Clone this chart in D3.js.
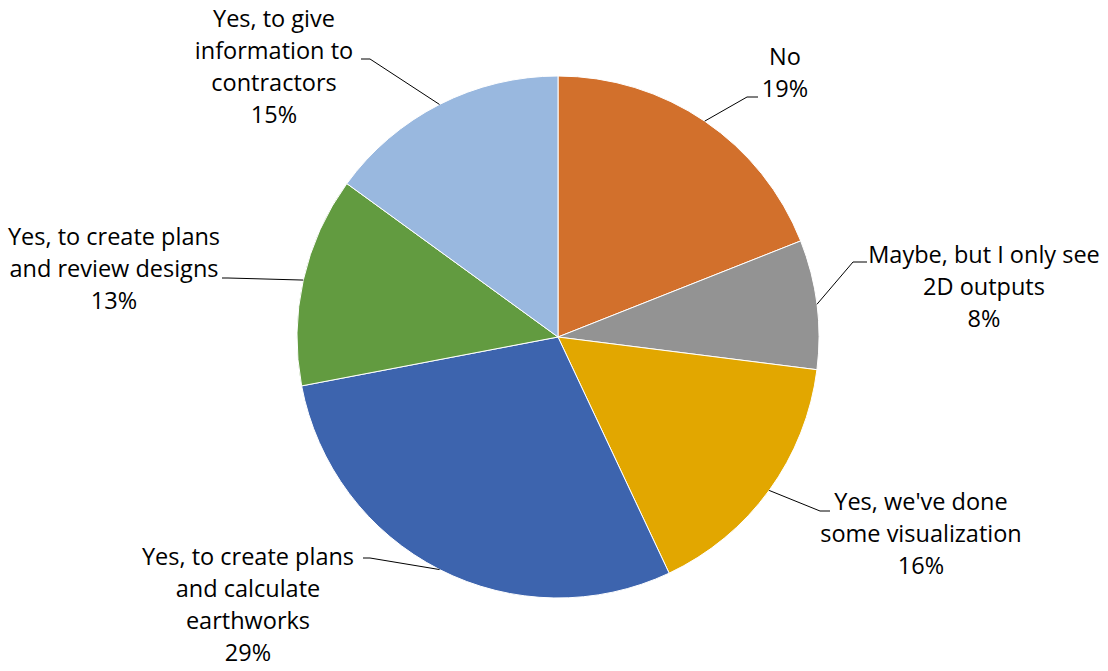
<!DOCTYPE html>
<html>
<head>
<meta charset="utf-8">
<script src="https://cdn.jsdelivr.net/npm/d3@7"></script>
<style>
  html, body { margin: 0; padding: 0; background: #fff; }
  svg { display: block; }
  text { font-family: "Open Sans", Lato, sans-serif; font-size: 23.5px; fill: #000; }
</style>
</head>
<body>
<svg id="chart" width="1108" height="671"></svg>
<script>
// Survey answers, clockwise from 12 o'clock
const categories = [
  "No",
  "Maybe, but I only see 2D outputs",
  "Yes, we've done some visualization",
  "Yes, to create plans and calculate earthworks",
  "Yes, to create plans and review designs",
  "Yes, to give information to contractors"
];
const values = [19, 8, 16, 29, 13, 15];
const labelLines = [
  ["No", "19%"],
  ["Maybe, but I only see", "2D outputs", "8%"],
  ["Yes, we've done", "some visualization", "16%"],
  ["Yes, to create plans", "and calculate", "earthworks", "29%"],
  ["Yes, to create plans", "and review designs", "13%"],
  ["Yes, to give", "information to", "contractors", "15%"]
];
const colors = ["#D2702C", "#939393", "#E2A700", "#3D64AE", "#629B40", "#99B8DF"];

// Label layout: text block centre / first baseline, and leader elbow + end
const labelLayout = [
  { x: 785, y: 65,  elbow: [747, 97],  end: [758, 97] },
  { x: 984, y: 263, elbow: [853, 262], end: [867, 262] },
  { x: 921, y: 510, elbow: [820, 511], end: [830, 511] },
  { x: 248, y: 565, elbow: [370, 558], end: [363, 558] },
  { x: 114, y: 245, elbow: [228, 278], end: [222, 278] },
  { x: 274, y: 27,  elbow: [370, 59],  end: [361, 59] }
];

const cx = 558, cy = 337, radius = 261, lineHeight = 32;

const svg = d3.select("#chart");
const g = svg.append("g").attr("transform", `translate(${cx},${cy})`);

const data = categories.map((c, i) => ({ category: c, value: values[i], idx: i }));

const pie = d3.pie().value(d => d.value).sort(null).startAngle(0).endAngle(2 * Math.PI);
const arc = d3.arc().innerRadius(0).outerRadius(radius);
const arcs = pie(data);

g.selectAll("path.slice")
  .data(arcs)
  .join("path")
  .attr("class", "slice")
  .attr("d", arc)
  .attr("fill", d => colors[d.data.idx])
  .attr("stroke", "#fff")
  .attr("stroke-width", 1);

// Leader lines: from the slice's mid-angle on the rim to the label
const leaders = svg.append("g");
arcs.forEach(a => {
  const mid = (a.startAngle + a.endAngle) / 2;
  const p0 = [cx + radius * Math.sin(mid), cy - radius * Math.cos(mid)];
  const L = labelLayout[a.data.idx];
  leaders.append("polyline")
    .attr("points", [p0, L.elbow, L.end].map(p => p.join(",")).join(" "))
    .attr("fill", "none")
    .attr("stroke", "#000")
    .attr("stroke-width", 1);
});

// Labels
const labels = svg.append("g");
arcs.forEach(a => {
  const L = labelLayout[a.data.idx];
  const t = labels.append("text")
    .attr("text-anchor", "middle")
    .attr("x", L.x)
    .attr("y", L.y);
  labelLines[a.data.idx].forEach((line, j) => {
    t.append("tspan").attr("x", L.x).attr("y", L.y + j * lineHeight).text(line);
  });
});
</script>
</body>
</html>
